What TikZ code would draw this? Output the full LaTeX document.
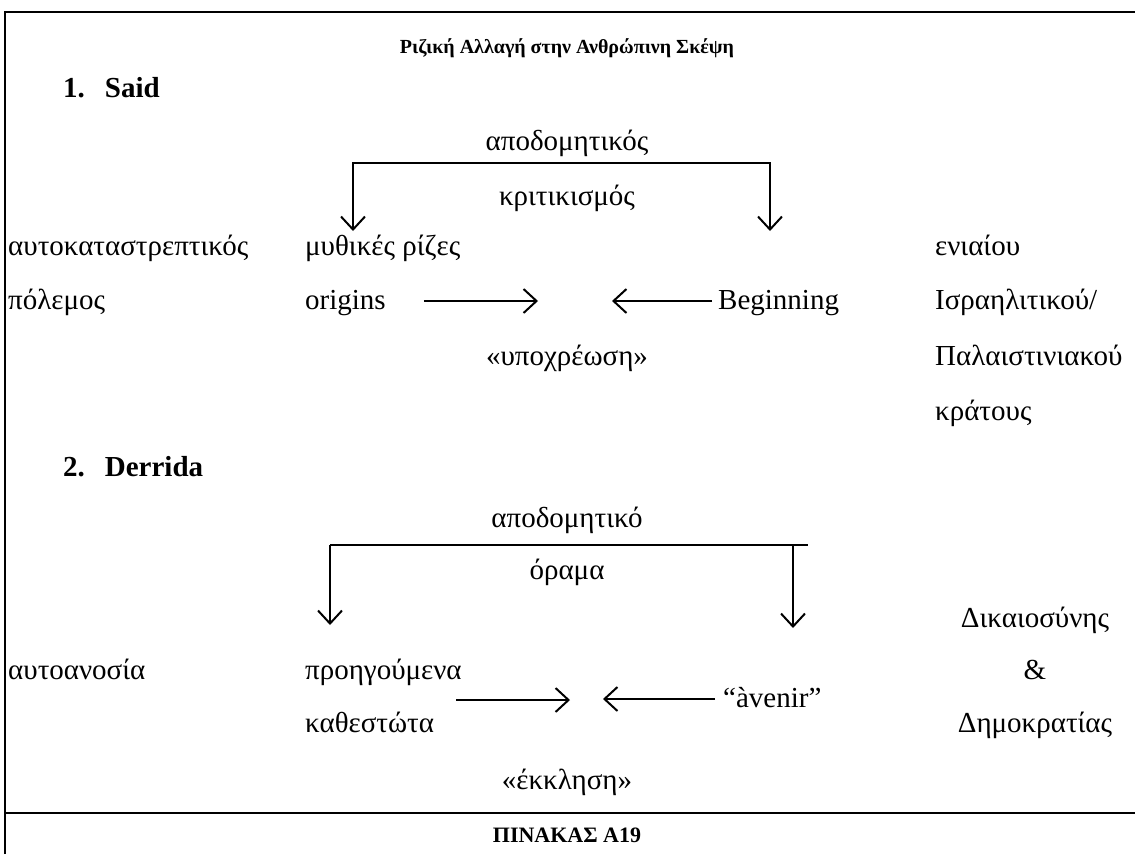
\documentclass[tikz,border=0pt]{standalone}
\usepackage{fontspec}
\setmainfont{Liberation Serif}
\usepackage{tikz}
\usetikzlibrary{arrows.meta, positioning}

\begin{document}
\begin{tikzpicture}[x=1pt, y=-1pt, every node/.style={font=\fontsize{29}{34}\selectfont}]

\tikzstyle{word} = [inner sep=0pt, anchor=base west, text height=23pt, text depth=7pt]
\tikzstyle{mid} = [word, anchor=base]
\tikzstyle{head} = [word, font=\fontsize{29}{34}\selectfont\bfseries]
\tikzstyle{arrow} = [line width=2pt, ->, >={Straight Barb[length=13pt, width=24pt]}]
\tikzstyle{rule} = [line width=2.4pt]

\useasboundingbox (0,0) rectangle (1135,854);

% Frame
\draw [rule] (5,854) -- (5,12) -- (1135,12);
\draw [rule] (5,813) -- (1135,813);

% Nodes
\node (title) [head, anchor=base, font=\fontsize{20}{24}\selectfont\bfseries] at (567,53) {Ριζική Αλλαγή στην Ανθρώπινη Σκέψη};
\node (said) [head] at (63,97) {1.\hspace{20pt}Said};
\node (deco1) [mid] at (567,150) {αποδομητικός};
\node (crit) [mid] at (567,205) {κριτικισμός};
\node (war1) [word] at (8,255) {αυτοκαταστρεπτικός};
\node (war2) [word] at (8,309) {πόλεμος};
\node (myth) [word] at (305,255) {μυθικές ρίζες};
\node (origins) [word] at (305,309) {origins};
\node (beginning) [word] at (718,309) {Beginning};
\node (oblig) [mid] at (567,365) {«υποχρέωση»};
\node (unif1) [word] at (935,255) {ενιαίου};
\node (unif2) [word] at (935,309) {Ισραηλιτικού/};
\node (unif3) [word] at (935,365) {Παλαιστινιακού};
\node (unif4) [word] at (935,420) {κράτους};

\node (derrida) [head] at (63,476) {2.\hspace{20pt}Derrida};
\node (deco2) [mid] at (567,527) {αποδομητικό};
\node (vision) [mid] at (567,579) {όραμα};
\node (justice) [mid] at (1035,627) {Δικαιοσύνης};
\node (amp) [mid] at (1035,679) {\&};
\node (democ) [mid] at (1035,732) {Δημοκρατίας};
\node (autoimm) [word] at (8,679) {αυτοανοσία};
\node (prev1) [word] at (305,679) {προηγούμενα};
\node (prev2) [word] at (305,732) {καθεστώτα};
\node (avenir) [word] at (723,707) {“àvenir”};
\node (appeal) [mid] at (567,789) {«έκκληση»};
\node (table) [mid, font=\fontsize{22}{26}\selectfont\bfseries] at (567,842) {ΠΙΝΑΚΑΣ Α19};

% Coordinates
\coordinate (meet1L) at (538,0);
\coordinate (meet1R) at (612,0);
\coordinate (top1R) at (770,163);
\coordinate (tip1L) at (353,231);
\coordinate (tip1R) at (770,231);
\coordinate (top2L) at (330,545);
\coordinate (top2E) at (808,545);
\coordinate (top2R) at (793,545);
\coordinate (tip2L) at (330,625);
\coordinate (tip2R) at (793,628);
\coordinate (push2) at (456,700);
\coordinate (meet2L) at (570,700);
\coordinate (meet2R) at (603,700);

% Arrows
\draw [arrow, <->] (tip1L) |- (top1R) -- (tip1R);
\draw [arrow, shorten <=38pt] (origins.east) -- (origins.east -| meet1L);
\draw [arrow, shorten <=6pt] (beginning.west) -- (beginning.west -| meet1R);

\draw [line width=2pt] (top2L) -- (top2E);
\draw [arrow] (top2L) -- (tip2L);
\draw [arrow] (top2R) -- (tip2R);
\draw [arrow] (push2) -- (meet2L);
\draw [arrow, shorten <=8pt] (avenir.west) -- (avenir.west -| meet2R);

\end{tikzpicture}
\end{document}
